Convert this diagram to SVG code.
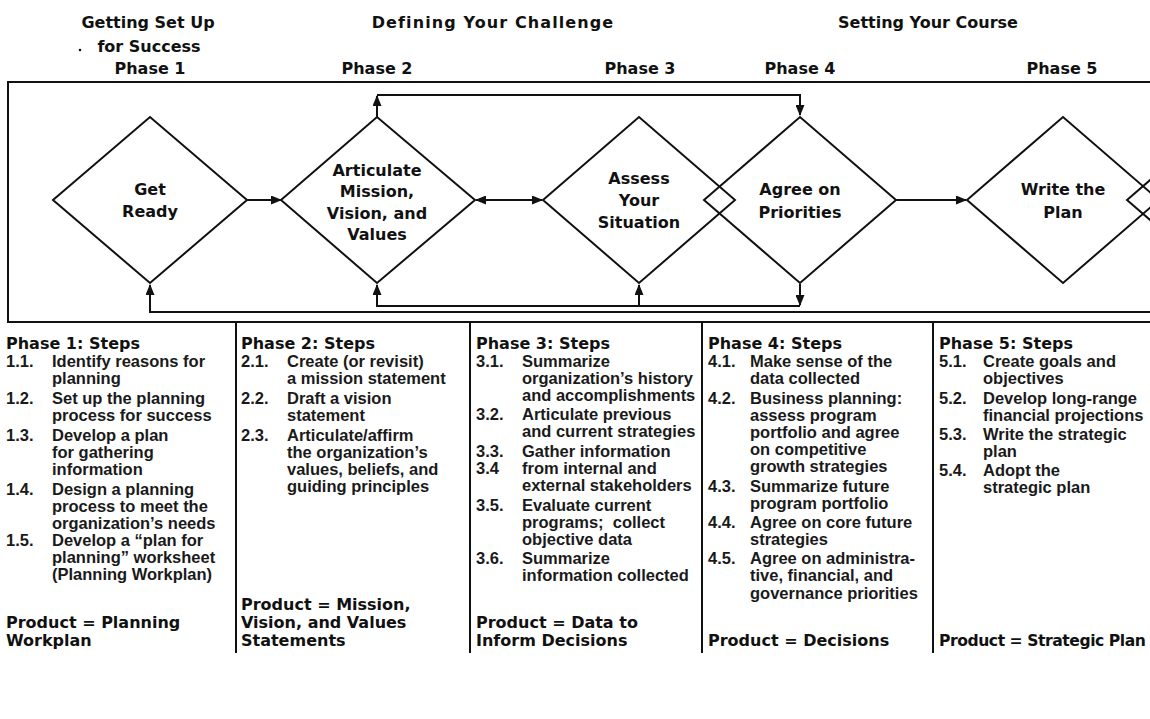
<svg xmlns="http://www.w3.org/2000/svg" width="1150" height="719" viewBox="0 0 1150 719">
  <defs>
    <marker id="arrow" markerUnits="userSpaceOnUse" markerWidth="11" markerHeight="9" viewBox="0 0 11 9" refX="10" refY="4.5" orient="auto-start-reverse">
      <path d="M0,0 L11,4.5 L0,9 z" fill="#111"/>
    </marker>
    <style>
      .frame { fill: none; stroke: #111; stroke-width: 2; }
      .dia { fill: none; stroke: #111; stroke-width: 2; stroke-linejoin: miter; }
      .con { fill: none; stroke: #111; stroke-width: 2; }
      .hd { font-family: "DejaVu Sans", sans-serif; font-weight: bold; font-size: 16px; fill: #111; text-anchor: middle; }
      .lbl { font-family: "DejaVu Sans", sans-serif; font-weight: bold; font-size: 16px; fill: #111; text-anchor: middle; }
      .sh { font-family: "DejaVu Sans", sans-serif; font-weight: bold; font-size: 16px; fill: #111; }
      .st { font-family: "Liberation Sans", Arial, sans-serif; font-weight: bold; font-size: 16.5px; fill: #1a1a1a; }
    </style>
  </defs>

  <rect width="1150" height="719" fill="#fff"/>

  <!-- stage headings -->
  <g id="headings">
    <text class="hd" x="148" y="28">Getting Set Up</text>
    <text class="hd" x="149" y="52">for Success</text>
    <circle cx="80" cy="50" r="1.3" fill="#111"/>
    <text class="hd" x="493" y="28" letter-spacing="1.1">Defining Your Challenge</text>
    <text class="hd" x="928" y="28">Setting Your Course</text>
    <text class="hd" x="150" y="74">Phase 1</text>
    <text class="hd" x="377" y="74">Phase 2</text>
    <text class="hd" x="640" y="74">Phase 3</text>
    <text class="hd" x="800" y="74">Phase 4</text>
    <text class="hd" x="1062" y="74">Phase 5</text>
  </g>

  <!-- outer frame and step table rules -->
  <g id="frame">
    <path class="frame" d="M1152,82 H8 V322 H1152"/>
    <path class="frame" d="M236,322 V653 M470,322 V653 M702,322 V653 M933,322 V653"/>
  </g>

  <!-- phase nodes -->
  <g id="node-get-ready">
    <polygon class="dia" points="53,200 150,117 247,200 150,283"/>
    <text class="lbl" x="150" y="194.5">Get</text>
    <text class="lbl" x="150" y="217">Ready</text>
  </g>
  <g id="node-articulate">
    <polygon class="dia" points="281,200 377,117 475,200 377,283"/>
    <text class="lbl" x="377" y="175.5">Articulate</text>
    <text class="lbl" x="377" y="197">Mission,</text>
    <text class="lbl" x="377" y="218.5">Vision, and</text>
    <text class="lbl" x="377" y="240">Values</text>
  </g>
  <g id="node-assess">
    <polygon class="dia" points="543,200 639,117 735,200 639,283"/>
    <text class="lbl" x="639" y="184">Assess</text>
    <text class="lbl" x="639" y="206">Your</text>
    <text class="lbl" x="639" y="228">Situation</text>
  </g>
  <g id="node-agree">
    <polygon class="dia" points="704,200 800,117 896,200 800,283"/>
    <text class="lbl" x="800" y="195">Agree on</text>
    <text class="lbl" x="800" y="217.5">Priorities</text>
  </g>
  <g id="node-write">
    <polygon class="dia" points="967,200 1063,117 1159,200 1063,283"/>
    <text class="lbl" x="1063" y="195">Write the</text>
    <text class="lbl" x="1063" y="217.5">Plan</text>
  </g>
  <g id="node-next">
    <polygon class="dia" points="1127,200 1223,117 1319,200 1223,283"/>
  </g>

  <!-- connectors -->
  <g id="connectors">
    <path class="con" d="M247,200 H281" marker-end="url(#arrow)"/>
    <path class="con" d="M476,200 H542" marker-start="url(#arrow)" marker-end="url(#arrow)"/>
    <path class="con" d="M896,200 H966" marker-end="url(#arrow)"/>
    <path class="con" d="M377,117 V96" marker-end="url(#arrow)"/>
    <path class="con" d="M377,95 H800 V115" marker-end="url(#arrow)"/>
    <path class="con" d="M800,284 V305" marker-end="url(#arrow)"/>
    <path class="con" d="M800,306 H377 V285" marker-end="url(#arrow)"/>
    <path class="con" d="M639,306 V285" marker-end="url(#arrow)"/>
    <path class="con" d="M1152,312 H150 V285" marker-end="url(#arrow)"/>
  </g>

  <!-- phase 1 steps -->
  <g id="steps-1">
    <text class="sh" x="6" y="349">Phase 1: Steps</text>
    <text class="st" x="6" y="367">1.1.</text><text class="st" x="52" y="367">Identify reasons for</text>
    <text class="st" x="52" y="384">planning</text>
    <text class="st" x="6" y="404">1.2.</text><text class="st" x="52" y="404">Set up the planning</text>
    <text class="st" x="52" y="421">process for success</text>
    <text class="st" x="6" y="441">1.3.</text><text class="st" x="52" y="441">Develop a plan</text>
    <text class="st" x="52" y="458">for gathering</text>
    <text class="st" x="52" y="475">information</text>
    <text class="st" x="6" y="495">1.4.</text><text class="st" x="52" y="495">Design a planning</text>
    <text class="st" x="52" y="512">process to meet the</text>
    <text class="st" x="52" y="529">organization’s needs</text>
    <text class="st" x="6" y="546">1.5.</text><text class="st" x="52" y="546">Develop a “plan for</text>
    <text class="st" x="52" y="563">planning” worksheet</text>
    <text class="st" x="52" y="580">(Planning Workplan)</text>
    <text class="sh" x="6" y="628">Product = Planning</text>
    <text class="sh" x="6" y="646">Workplan</text>
  </g>

  <!-- phase 2 steps -->
  <g id="steps-2">
    <text class="sh" x="241" y="349">Phase 2: Steps</text>
    <text class="st" x="241" y="367">2.1.</text><text class="st" x="287" y="367">Create (or revisit)</text>
    <text class="st" x="287" y="384">a mission statement</text>
    <text class="st" x="241" y="404">2.2.</text><text class="st" x="287" y="404">Draft a vision</text>
    <text class="st" x="287" y="421">statement</text>
    <text class="st" x="241" y="441">2.3.</text><text class="st" x="287" y="441">Articulate/affirm</text>
    <text class="st" x="287" y="458">the organization’s</text>
    <text class="st" x="287" y="475">values, beliefs, and</text>
    <text class="st" x="287" y="492">guiding principles</text>
    <text class="sh" x="241" y="610">Product = Mission,</text>
    <text class="sh" x="241" y="628">Vision, and Values</text>
    <text class="sh" x="241" y="646">Statements</text>
  </g>

  <!-- phase 3 steps -->
  <g id="steps-3">
    <text class="sh" x="476" y="349">Phase 3: Steps</text>
    <text class="st" x="476" y="367">3.1.</text><text class="st" x="522" y="367">Summarize</text>
    <text class="st" x="522" y="384">organization’s history</text>
    <text class="st" x="522" y="401">and accomplishments</text>
    <text class="st" x="476" y="420">3.2.</text><text class="st" x="522" y="420">Articulate previous</text>
    <text class="st" x="522" y="437">and current strategies</text>
    <text class="st" x="476" y="457">3.3.</text><text class="st" x="522" y="457">Gather information</text>
    <text class="st" x="476" y="474">3.4</text><text class="st" x="522" y="474">from internal and</text>
    <text class="st" x="522" y="491">external stakeholders</text>
    <text class="st" x="476" y="511">3.5.</text><text class="st" x="522" y="511">Evaluate current</text>
    <text class="st" x="522" y="528" xml:space="preserve">programs;  collect</text>
    <text class="st" x="522" y="545">objective data</text>
    <text class="st" x="476" y="564">3.6.</text><text class="st" x="522" y="564">Summarize</text>
    <text class="st" x="522" y="581">information collected</text>
    <text class="sh" x="476" y="628">Product = Data to</text>
    <text class="sh" x="476" y="646">Inform Decisions</text>
  </g>

  <!-- phase 4 steps -->
  <g id="steps-4">
    <text class="sh" x="708" y="349">Phase 4: Steps</text>
    <text class="st" x="708" y="367">4.1.</text><text class="st" x="750" y="367">Make sense of the</text>
    <text class="st" x="750" y="384">data collected</text>
    <text class="st" x="708" y="404">4.2.</text><text class="st" x="750" y="404">Business planning:</text>
    <text class="st" x="750" y="421">assess program</text>
    <text class="st" x="750" y="438">portfolio and agree</text>
    <text class="st" x="750" y="455">on competitive</text>
    <text class="st" x="750" y="472">growth strategies</text>
    <text class="st" x="708" y="492">4.3.</text><text class="st" x="750" y="492">Summarize future</text>
    <text class="st" x="750" y="509">program portfolio</text>
    <text class="st" x="708" y="528">4.4.</text><text class="st" x="750" y="528">Agree on core future</text>
    <text class="st" x="750" y="545">strategies</text>
    <text class="st" x="708" y="564">4.5.</text><text class="st" x="750" y="564">Agree on administra-</text>
    <text class="st" x="750" y="581">tive, financial, and</text>
    <text class="st" x="750" y="599">governance priorities</text>
    <text class="sh" x="708" y="646">Product = Decisions</text>
  </g>

  <!-- phase 5 steps -->
  <g id="steps-5">
    <text class="sh" x="939" y="349">Phase 5: Steps</text>
    <text class="st" x="939" y="367">5.1.</text><text class="st" x="983" y="367">Create goals and</text>
    <text class="st" x="983" y="384">objectives</text>
    <text class="st" x="939" y="404">5.2.</text><text class="st" x="983" y="404">Develop long-range</text>
    <text class="st" x="983" y="421">financial projections</text>
    <text class="st" x="939" y="440">5.3.</text><text class="st" x="983" y="440">Write the strategic</text>
    <text class="st" x="983" y="457">plan</text>
    <text class="st" x="939" y="476">5.4.</text><text class="st" x="983" y="476">Adopt the</text>
    <text class="st" x="983" y="493">strategic plan</text>
    <text class="sh" x="939" y="646" style="font-size:15.6px;letter-spacing:-0.45px">Product = Strategic Plan</text>
  </g>
</svg>
